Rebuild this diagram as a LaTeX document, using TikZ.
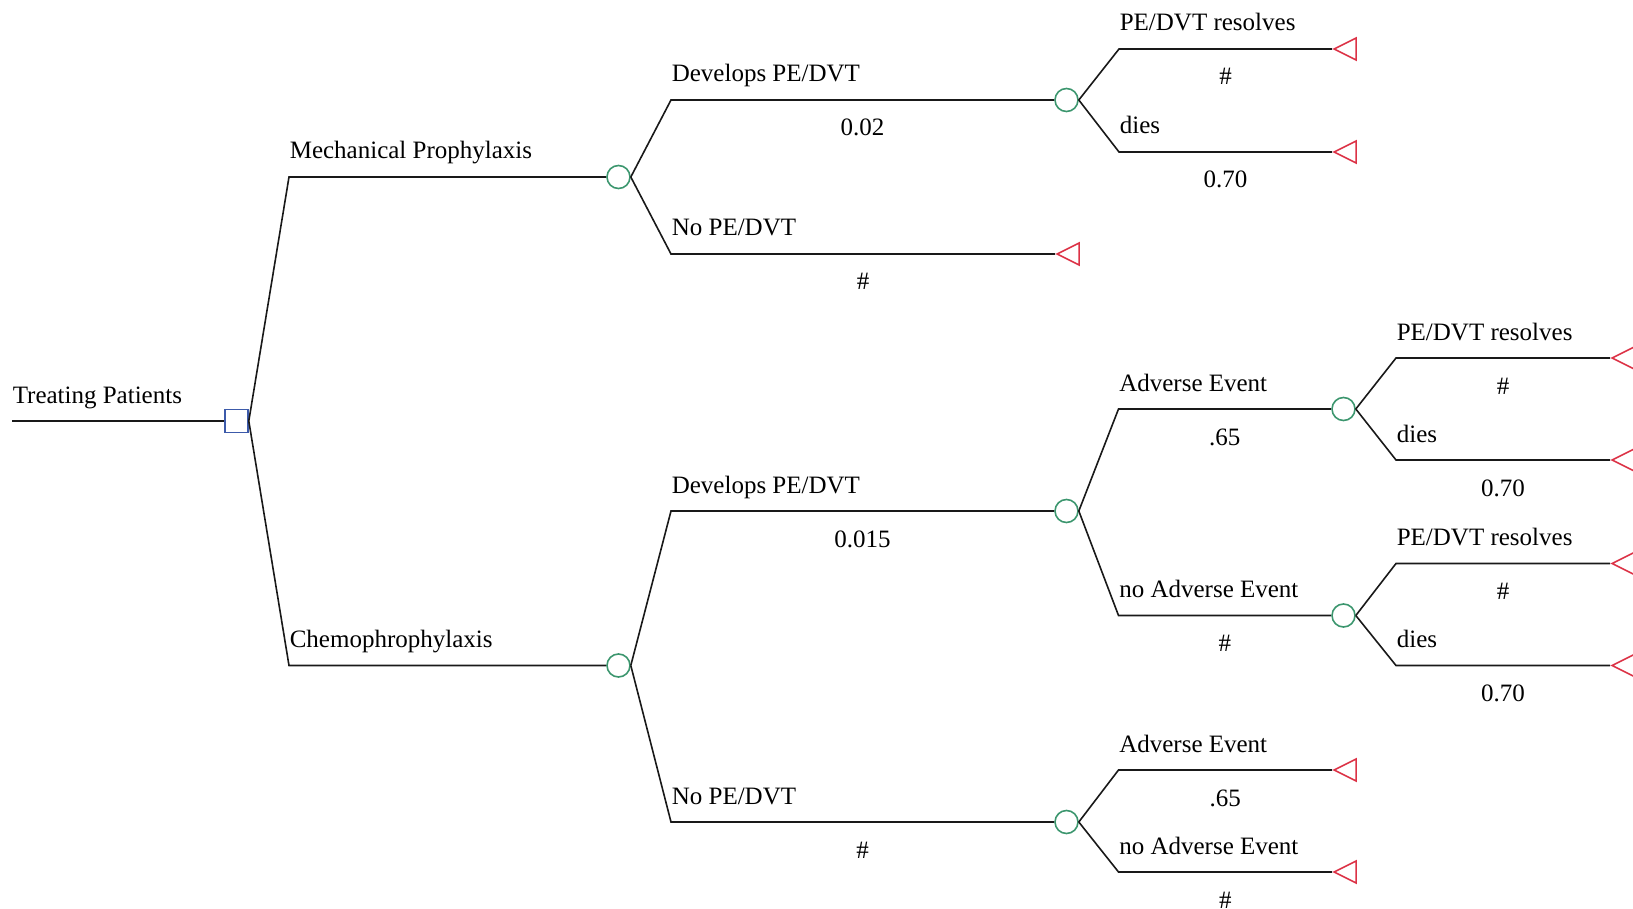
\documentclass[tikz,border=0pt]{standalone}
\usepackage{fontspec}
\setmainfont{Liberation Serif}
\usetikzlibrary{shapes.geometric,calc}
\definecolor{dblue}{RGB}{60,90,170}
\definecolor{cgreen}{RGB}{60,150,110}
\definecolor{tred}{RGB}{220,50,70}
\definecolor{lgray}{RGB}{25,25,25}
\begin{document}
\begin{tikzpicture}[x=1pt,y=-1pt,
 line width=1.6pt,
 every path/.style={draw=lgray},
 dec/.style={draw=dblue, rectangle, minimum size=23pt, inner sep=0pt, line width=1.6pt},
 chn/.style={draw=cgreen, circle, minimum size=23pt, inner sep=0pt, line width=1.6pt},
 term/.style={draw=tred, isosceles triangle, isosceles triangle stretches, shape border rotate=180, minimum width=22pt, minimum height=22pt, inner sep=0pt, anchor=apex, line width=1.6pt},
 lab/.style={anchor=base west, inner sep=0pt, text=black, font=\fontsize{25}{30}\selectfont},
 prob/.style={anchor=base, inner sep=0pt, text=black, font=\fontsize{25}{30}\selectfont}]
\useasboundingbox[draw=none] (0,0) rectangle (1633,909);

% nodes
\coordinate (r0) at (12,421);
\node[dec] (S) at (236.5,421) {};
\node[chn] (c1) at (618.5,177) {};
\node[chn] (c2) at (618.5,665.5) {};
\node[chn] (c3) at (1066.5,100) {};
\node[term] (t1) at (1055,254) {};
\node[term] (t2) at (1332,49) {};
\node[term] (t3) at (1332,152) {};
\node[chn] (c4) at (1066.5,511) {};
\node[chn] (c5) at (1066.5,822) {};
\node[chn] (c6) at (1343.5,409) {};
\node[chn] (c7) at (1343.5,615.5) {};
\node[term] (t4) at (1610,358) {};
\node[term] (t5) at (1610,460) {};
\node[term] (t6) at (1610,563.5) {};
\node[term] (t7) at (1610,665.5) {};
\node[term] (t8) at (1332,770) {};
\node[term] (t9) at (1332,872) {};

% elbows
\coordinate (e1) at (289,177);
\coordinate (e2) at (289,665.5);
\coordinate (e3) at (671,100);
\coordinate (e4) at (671,254);
\coordinate (e5) at (1119,49);
\coordinate (e6) at (1119,152);
\coordinate (e7) at (671,511);
\coordinate (e8) at (671,822);
\coordinate (e9) at (1118.5,409);
\coordinate (e10) at (1118.5,615.5);
\coordinate (e11) at (1396,358);
\coordinate (e12) at (1396,460);
\coordinate (e13) at (1396,563.5);
\coordinate (e14) at (1396,665.5);
\coordinate (e15) at (1118.5,770);
\coordinate (e16) at (1118.5,872);

% connectors
\draw (r0) -- (S.west);
\draw (S.east) -- (e1) -- (c1.west);
\draw (S.east) -- (e2) -- (c2.west);
\draw (c1.east) -- (e3) -- (c3.west);
\draw (c1.east) -- (e4) -- (t1.apex);
\draw (c3.east) -- (e5) -- (t2.apex);
\draw (c3.east) -- (e6) -- (t3.apex);
\draw (c2.east) -- (e7) -- (c4.west);
\draw (c2.east) -- (e8) -- (c5.west);
\draw (c4.east) -- (e9) -- (c6.west);
\draw (c4.east) -- (e10) -- (c7.west);
\draw (c6.east) -- (e11) -- (t4.apex);
\draw (c6.east) -- (e12) -- (t5.apex);
\draw (c7.east) -- (e13) -- (t6.apex);
\draw (c7.east) -- (e14) -- (t7.apex);
\draw (c5.east) -- (e15) -- (t8.apex);
\draw (c5.east) -- (e16) -- (t9.apex);

% labels
\node[lab] (l0) at ([yshift=18pt]r0) {Treating Patients};
\node[lab] (l1) at ([yshift=18pt]e1) {Mechanical Prophylaxis};
\node[lab] (l2) at ([yshift=18pt]e2) {Chemophrophylaxis};
\node[lab] (l3) at ([yshift=18pt]e3) {Develops PE/DVT};
\node[lab] (l4) at ([yshift=18pt]e4) {No PE/DVT};
\node[lab] (l5) at ([yshift=18pt]e5) {PE/DVT resolves};
\node[lab] (l6) at ([yshift=18pt]e6) {dies};
\node[lab] (l7) at ([yshift=18pt]e7) {Develops PE/DVT};
\node[lab] (l8) at ([yshift=18pt]e8) {No PE/DVT};
\node[lab] (l9) at ([yshift=18pt]e9) {Adverse Event};
\node[lab] (l10) at ([yshift=18pt]e10) {no Adverse Event};
\node[lab] (l11) at ([yshift=18pt]e11) {PE/DVT resolves};
\node[lab] (l12) at ([yshift=18pt]e12) {dies};
\node[lab] (l13) at ([yshift=18pt]e13) {PE/DVT resolves};
\node[lab] (l14) at ([yshift=18pt]e14) {dies};
\node[lab] (l15) at ([yshift=18pt]e15) {Adverse Event};
\node[lab] (l16) at ([yshift=18pt]e16) {no Adverse Event};

% probabilities
\node[prob] (p3) at ($(e3)!0.5!(c3.west)+(0,36)$) {0.02};
\node[prob] (p4) at ($(e4)!0.5!(t1.apex)+(0,36)$) {\#};
\node[prob] (p5) at ($(e5)!0.5!(t2.apex)+(0,36)$) {\#};
\node[prob] (p6) at ($(e6)!0.5!(t3.apex)+(0,36)$) {0.70};
\node[prob] (p7) at ($(e7)!0.5!(c4.west)+(0,36)$) {0.015};
\node[prob] (p8) at ($(e8)!0.5!(c5.west)+(0,36)$) {\#};
\node[prob] (p9) at ($(e9)!0.5!(c6.west)+(0,36)$) {.65};
\node[prob] (p10) at ($(e10)!0.5!(c7.west)+(0,36)$) {\#};
\node[prob] (p11) at ($(e11)!0.5!(t4.apex)+(0,36)$) {\#};
\node[prob] (p12) at ($(e12)!0.5!(t5.apex)+(0,36)$) {0.70};
\node[prob] (p13) at ($(e13)!0.5!(t6.apex)+(0,36)$) {\#};
\node[prob] (p14) at ($(e14)!0.5!(t7.apex)+(0,36)$) {0.70};
\node[prob] (p15) at ($(e15)!0.5!(t8.apex)+(0,36)$) {.65};
\node[prob] (p16) at ($(e16)!0.5!(t9.apex)+(0,36)$) {\#};
\end{tikzpicture}
\end{document}
